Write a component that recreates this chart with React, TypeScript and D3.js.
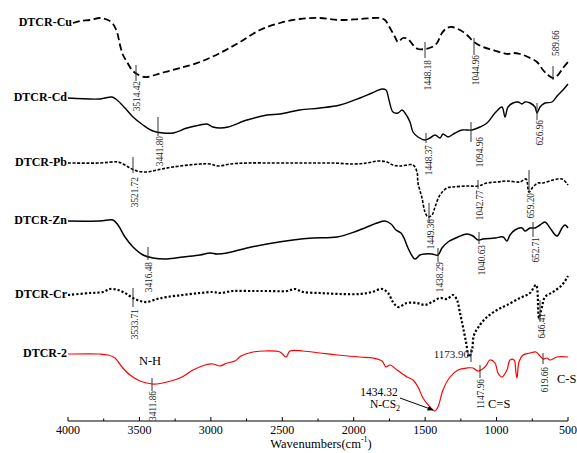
import React from "react";
import * as d3 from "d3";

// ---- data: [wavenumber (cm-1), relative transmittance (offset units)] ----
const cuData: [number, number][] = [
  [3965, 398], [3916, 400], [3846, 401], [3776, 403], [3720, 401], [3685, 397], [3657, 389], [3636, 376],
  [3615, 366], [3587, 359], [3552, 351], [3517, 347], [3461, 344], [3391, 346], [3321, 349], [3216, 353],
  [3076, 359], [2936, 368], [2796, 379], [2656, 391], [2516, 398], [2376, 402], [2236, 403], [2096, 401],
  [1956, 402], [1816, 403], [1781, 401], [1746, 393], [1711, 384], [1690, 379], [1655, 383], [1620, 382],
  [1585, 376], [1550, 372], [1501, 372], [1452, 374], [1417, 378], [1382, 388], [1347, 393], [1312, 394],
  [1256, 391], [1207, 386], [1158, 379], [1095, 374], [1025, 371], [955, 368], [920, 367], [885, 368],
  [836, 367], [780, 364], [717, 359], [675, 351], [640, 346], [605, 343], [570, 346], [535, 353], [500, 359],
];

const cdData: [number, number][] = [
  [4000, 323], [3776, 322], [3692, 324], [3657, 321], [3601, 313], [3545, 304], [3475, 296], [3405, 290],
  [3335, 288], [3265, 288], [3167, 293], [3076, 296], [3027, 297], [2985, 294], [2936, 293], [2880, 294],
  [2747, 301], [2607, 306], [2516, 307], [2376, 311], [2236, 313], [2096, 316], [1956, 323], [1872, 328],
  [1802, 332], [1774, 331], [1753, 321], [1725, 309], [1690, 308], [1662, 311], [1641, 308], [1606, 299],
  [1585, 289], [1550, 284], [1501, 281], [1466, 283], [1431, 286], [1396, 283], [1375, 287], [1340, 284],
  [1291, 288], [1242, 291], [1172, 291], [1116, 294], [1067, 298], [1011, 308], [962, 314], [941, 304],
  [920, 314], [885, 318], [850, 319], [822, 317], [801, 319], [766, 318], [731, 314], [717, 308],
  [696, 314], [661, 318], [612, 319], [570, 326], [535, 331], [500, 337],
];

const pbData: [number, number][] = [
  [4000, 258], [3776, 258], [3650, 259], [3601, 256], [3566, 253], [3517, 250], [3447, 249], [3377, 251],
  [3265, 254], [3076, 257], [3006, 257], [2950, 255], [2866, 257], [2747, 258], [2565, 258], [2411, 258],
  [2285, 258], [2145, 258], [2005, 257], [1907, 258], [1830, 260], [1767, 259], [1725, 256], [1676, 255],
  [1585, 256], [1557, 249], [1550, 238], [1522, 223], [1501, 209], [1480, 204], [1452, 206], [1431, 214],
  [1396, 226], [1347, 233], [1305, 234], [1207, 235], [1130, 235], [1067, 238], [997, 239], [927, 240],
  [836, 239], [794, 242], [773, 229], [745, 234], [710, 238], [675, 238], [605, 241], [542, 242], [500, 236],
];

const znData: [number, number][] = [
  [4000, 200], [3776, 200], [3685, 201], [3650, 196], [3601, 184], [3545, 174], [3475, 166], [3405, 163],
  [3307, 162], [3195, 164], [3076, 166], [3006, 168], [2957, 167], [2887, 168], [2747, 173], [2607, 177],
  [2425, 181], [2285, 183], [2117, 184], [1977, 190], [1837, 198], [1781, 200], [1739, 197], [1704, 191],
  [1669, 188], [1648, 183], [1620, 173], [1571, 162], [1536, 166], [1501, 167], [1452, 167], [1410, 166],
  [1382, 173], [1340, 179], [1270, 184], [1207, 187], [1165, 185], [1130, 181], [1095, 182], [1011, 183],
  [955, 184], [927, 180], [906, 186], [871, 191], [822, 193], [801, 190], [766, 193], [731, 193],
  [696, 196], [661, 199], [626, 193], [577, 185], [542, 193], [521, 196], [500, 193],
];

const crData: [number, number][] = [
  [4000, 126], [3846, 128], [3755, 129], [3706, 132], [3650, 131], [3601, 128], [3545, 123], [3496, 120],
  [3447, 119], [3377, 122], [3307, 124], [3195, 126], [3076, 128], [2985, 129], [2936, 128], [2845, 130],
  [2726, 130], [2607, 130], [2467, 130], [2411, 132], [2355, 129], [2236, 128], [2096, 127], [1956, 127],
  [1872, 129], [1802, 132], [1760, 128], [1725, 119], [1690, 114], [1627, 118], [1557, 118], [1501, 116],
  [1452, 119], [1396, 123], [1347, 122], [1305, 126], [1277, 121], [1256, 108], [1235, 94], [1214, 79],
  [1193, 64], [1172, 71], [1158, 86], [1116, 96], [1067, 104], [997, 111], [927, 116], [836, 123],
  [766, 128], [724, 136], [703, 103], [682, 114], [661, 124], [605, 129], [542, 136], [500, 145],
];

const dtcr2Data: [number, number][] = [
  [4000, 67], [3776, 67], [3720, 66], [3671, 63], [3622, 54], [3566, 46], [3496, 40], [3412, 37],
  [3377, 37], [3307, 39], [3202, 44], [3125, 51], [3041, 56], [2985, 57], [2936, 55], [2887, 58],
  [2831, 60], [2789, 65], [2705, 69], [2621, 70], [2516, 69], [2474, 64], [2446, 70], [2355, 70],
  [2236, 68], [2117, 66], [1956, 64], [1865, 63], [1802, 60], [1774, 54], [1746, 56], [1697, 51],
  [1627, 44], [1585, 41], [1550, 34], [1515, 23], [1466, 14], [1431, 10], [1410, 14], [1375, 31],
  [1326, 44], [1270, 51], [1207, 53], [1165, 53], [1130, 50], [1081, 54], [1046, 61], [1011, 58],
  [990, 48], [962, 44], [927, 51], [906, 61], [878, 61], [864, 48], [857, 43], [843, 59],
  [815, 66], [766, 68], [724, 69], [696, 65], [675, 62], [647, 63], [626, 61], [577, 64], [500, 64],
];

const seriesNames = ["DTCR-Cu", "DTCR-Cd", "DTCR-Pb", "DTCR-Zn", "DTCR-Cr", "DTCR-2"];
const seriesData = [cuData, cdData, pbData, znData, crData, dtcr2Data];

const xTicks = [4000, 3500, 3000, 2500, 2000, 1500, 1000, 500];
const xMinorTicks = [3750, 3250, 2750, 2250, 1750, 1250, 750];

// peak markers: [label, line wavenumber, line top, line bottom, label wavenumber, label edge, side]
const markers: [string, number, number, number, number, number, string][] = [
  ["3514.42", 3524, 356, 340, 3510, 340, "below"],
  ["1448.18", 1501, 379, 363, 1473, 361, "below"],
  ["1044.96", 1158, 383, 366, 1137, 366, "below"],
  ["589.66", 605, 355, 341, 577, 365, "above"],
  ["3441.80", 3370, 304, 285, 3349, 285, "below"],
  ["1448.37", 1494, 288, 278, 1466, 276, "below"],
  ["1094.96", 1179, 299, 279, 1109, 284, "below"],
  ["626.96", 717, 318, 301, 689, 301, "below"],
  ["3521.72", 3545, 264, 248, 3524, 244, "below"],
  ["1449.36", 1473, 218, 199, 1452, 202, "below"],
  ["1042.77", 1130, 241, 232, 1109, 231, "below"],
  ["659.20", 773, 251, 228, 752, 228, "below"],
  ["3416.48", 3440, 174, 161, 3426, 159, "below"],
  ["1438.29", 1410, 173, 159, 1389, 159, "below"],
  ["1040.63", 1123, 189, 177, 1095, 176, "below"],
  ["652.71", 745, 199, 184, 717, 184, "below"],
  ["3533.71", 3545, 133, 114, 3524, 112, "below"],
  ["646.41", 696, 121, 99, 675, 108, "below"],
  ["3411.86", 3412, 43, 30, 3398, 30, "below"],
  ["1147.96", 1116, 56, 43, 1102, 42, "below"],
  ["619.66", 675, 68, 57, 654, 54, "below"],
];

// Cr 1173.90 horizontal label marker
const crMainPeak: [string, number, number, number] = ["1173.90", 1179, 72, 59];

// group notes: [text, wavenumber, value, anchor]
const notes: [string, number, number, string][] = [
  ["N-H", 3426, 59, "middle"],
  ["C=S", 1060, 16, "start"],
  ["C-S", 577, 41, "start"],
];

const W = 577;
const H = 453;

const styles = [
  { stroke: "#000", width: 1.8, dash: "7,3.5" },
  { stroke: "#000", width: 1.4, dash: "" },
  { stroke: "#000", width: 1.6, dash: "3,1.6" },
  { stroke: "#000", width: 1.5, dash: "" },
  { stroke: "#000", width: 2.2, dash: "2.2,2" },
  { stroke: "#ff0000", width: 1.2, dash: "" },
];

export default function App() {
  const x = d3.scaleLinear().domain([4000, 500]).range([68, 568]);
  const y = d3.scaleLinear().domain([0, 421]).range([421, 0]);
  const line = d3
    .line<[number, number]>()
    .x((d) => x(d[0]))
    .y((d) => y(d[1]))
    .curve(d3.curveCatmullRom.alpha(0.5));

  const serif = "'Liberation Serif', 'Times New Roman', serif";

  return (
    <div style={{ position: "absolute", left: 0, top: 0 }}>
      <svg width={W} height={H} style={{ display: "block", background: "#fff" }} fontFamily={serif}>
        <defs>
          <marker id="arr" viewBox="0 0 10 10" refX="9" refY="5" markerWidth="6" markerHeight="6" orient="auto">
            <path d="M0,1 L10,5 L0,9 z" fill="#000" />
          </marker>
        </defs>

        {/* curves */}
        {seriesData.map((data, i) => (
          <path
            key={seriesNames[i]}
            d={line(data) || ""}
            fill="none"
            stroke={styles[i].stroke}
            strokeWidth={styles[i].width}
            strokeDasharray={styles[i].dash || undefined}
            strokeLinejoin="round"
          />
        ))}

        {/* series labels */}
        {seriesData.map((data, i) => (
          <text
            key={"l" + i}
            x={x(data[0][0]) - 1}
            y={y(data[0][1])}
            textAnchor="end"
            dominantBaseline="middle"
            fontWeight="bold"
            fontSize={12}
            fill="#000"
          >
            {seriesNames[i]}
          </text>
        ))}

        {/* peak markers */}
        {markers.map(([label, w, v1, v2, lw, lv, side]) => (
          <g key={label}>
            <line x1={x(w)} x2={x(w)} y1={y(v1)} y2={y(v2)} stroke="#333" strokeWidth={1} />
            <text
              transform={`translate(${x(lw)},${y(lv)}) rotate(-90)`}
              textAnchor={side === "below" ? "end" : "start"}
              dominantBaseline="middle"
              fontSize={9.3}
              fill="#222"
            >
              {label}
            </text>
          </g>
        ))}

        {/* Cr main peak */}
        <line
          x1={x(crMainPeak[1])}
          x2={x(crMainPeak[1])}
          y1={y(crMainPeak[2])}
          y2={y(crMainPeak[3])}
          stroke="#333"
          strokeWidth={1}
        />
        <text x={x(crMainPeak[1]) - 2} y={y(66)} textAnchor="end" dominantBaseline="middle" fontSize={11} fill="#222">
          {crMainPeak[0]}
        </text>

        {/* group notes */}
        {notes.map(([t, w, v, anchor]) => (
          <text key={t} x={x(w)} y={y(v)} textAnchor={anchor as any} dominantBaseline="middle" fontSize={12.5} fill="#000">
            {t}
          </text>
        ))}

        {/* N-CS2 annotation */}
        <text x={x(1823)} y={y(28)} textAnchor="middle" dominantBaseline="middle" fontSize={11.5} fill="#000">
          1434.32
        </text>
        <text x={x(1781)} y={y(16)} textAnchor="middle" dominantBaseline="middle" fontSize={11.5} fill="#000">
          N-CS<tspan baselineShift="sub" fontSize={8}>2</tspan>
        </text>
        <line x1={x(1676)} y1={y(23)} x2={x(1445)} y2={y(11)} stroke="#000" strokeWidth={1} markerEnd="url(#arr)" />

        {/* x axis */}
        <line x1={x(4000)} x2={x(500)} y1={421} y2={421} stroke="#000" strokeWidth={1} />
        {xTicks.map((t) => (
          <g key={t}>
            <line x1={x(t)} x2={x(t)} y1={421} y2={417} stroke="#000" strokeWidth={1} />
            <text x={x(t)} y={431} textAnchor="middle" dominantBaseline="middle" fontSize={12} fill="#000">
              {t}
            </text>
          </g>
        ))}
        {xMinorTicks.map((t) => (
          <line key={t} x1={x(t)} x2={x(t)} y1={421} y2={418.5} stroke="#000" strokeWidth={1} />
        ))}
        <text x={321} y={445} textAnchor="middle" dominantBaseline="middle" fontSize={12.5} fill="#000">
          Wavenumbers(cm<tspan baselineShift="super" fontSize={8}>-1</tspan>)
        </text>
      </svg>
    </div>
  );
}
